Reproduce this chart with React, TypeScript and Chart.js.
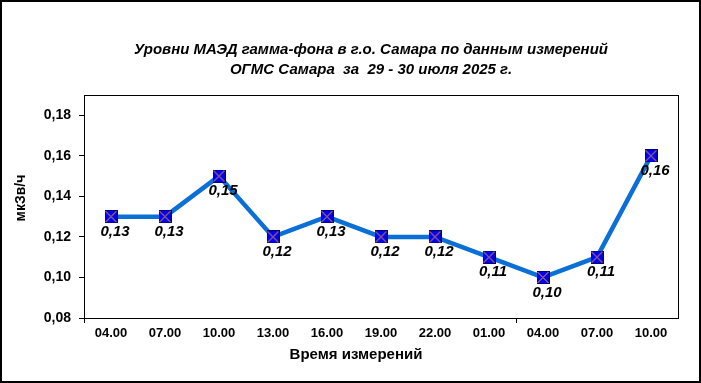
import React, { useEffect, useRef } from "react";
import { Chart, registerables } from "chart.js";

Chart.register(...registerables);

const TITLE_LINES = [
  "Уровни МАЭД гамма-фона в г.о. Самара по данным измерений",
  "ОГМС Самара  за  29 - 30 июля 2025 г.",
];
const X_TITLE = "Время измерений";
const Y_TITLE = "мкЗв/ч";
const CATEGORIES = ["04.00", "07.00", "10.00", "13.00", "16.00", "19.00", "22.00", "01.00", "04.00", "07.00", "10.00"];
const VALUES = [0.13, 0.13, 0.15, 0.12, 0.13, 0.12, 0.12, 0.11, 0.10, 0.11, 0.16];
const Y_TICKS = [0.08, 0.10, 0.12, 0.14, 0.16, 0.18];
const Y_MIN = 0.08;
const Y_MAX = 0.19;
const X_TICK_MARK_INDEXES = [0, 8];

const FONT = "'Liberation Sans', Arial, sans-serif";
const fmt = (v: number) => v.toFixed(2).replace(".", ",");

function makeMarker(): HTMLCanvasElement {
  const c = document.createElement("canvas");
  const s = 13;
  c.width = s;
  c.height = s;
  const ctx = c.getContext("2d")!;
  ctx.fillStyle = "#0000FF";
  ctx.fillRect(0, 0, s, s);
  ctx.strokeStyle = "#000080";
  ctx.lineWidth = 1;
  ctx.strokeRect(0.5, 0.5, s - 1, s - 1);
  ctx.strokeStyle = "#FFA500";
  ctx.lineWidth = 1;
  ctx.beginPath();
  ctx.moveTo(1, 1);
  ctx.lineTo(s - 1, s - 1);
  ctx.moveTo(s - 1, 1);
  ctx.lineTo(1, s - 1);
  ctx.stroke();
  return c;
}

const decorPlugin = {
  id: "decor",
  afterDraw(chart: any) {
    const { ctx, chartArea, width, height } = chart;
    ctx.save();
    ctx.strokeStyle = "#000";
    ctx.lineWidth = 1;
    ctx.strokeRect(
      Math.round(chartArea.left) + 0.5,
      Math.round(chartArea.top) + 0.5,
      Math.round(chartArea.right - chartArea.left),
      Math.round(chartArea.bottom - chartArea.top)
    );
    ctx.lineWidth = 2;
    ctx.strokeRect(1, 1, width - 2, height - 2);
    ctx.fillStyle = "#000";
    ctx.textAlign = "center";
    ctx.textBaseline = "middle";
    ctx.font = `italic bold 15px ${FONT}`;
    ctx.fillText(TITLE_LINES[0], 371, 50);
    ctx.fillText(TITLE_LINES[1], 371, 70);
    ctx.font = `bold 15px ${FONT}`;
    ctx.fillText(X_TITLE, 356, 355);
    ctx.save();
    ctx.translate(21, 198);
    ctx.rotate(-Math.PI / 2);
    ctx.font = `bold 14px ${FONT}`;
    ctx.fillText(Y_TITLE, 0, 0);
    ctx.restore();
    const meta = chart.getDatasetMeta(0);
    ctx.font = `italic bold 15px ${FONT}`;
    meta.data.forEach((pt: any, i: number) => {
      ctx.fillText(fmt(VALUES[i]), pt.x + 4, pt.y + 15);
    });
    ctx.restore();
  },
};

export default function App() {
  const ref = useRef<HTMLCanvasElement | null>(null);
  useEffect(() => {
    document.body.style.margin = "0";
    const marker = makeMarker();
    const chart = new Chart(ref.current!, {
      type: "line",
      data: {
        labels: CATEGORIES,
        datasets: [
          {
            data: VALUES,
            borderColor: "#0A6FD6",
            borderWidth: 4.5,
            tension: 0,
            pointStyle: marker as any,
            pointRadius: 7,
          },
        ],
      },
      options: {
        animation: false,
        responsive: false,
        maintainAspectRatio: false,
        layout: { padding: { top: 95, right: 23, left: 0, bottom: 0 } },
        plugins: {
          legend: { display: false },
          title: { display: false },
          tooltip: { enabled: false },
        },
        scales: {
          x: {
            offset: true,
            grid: {
              offset: true,
              drawOnChartArea: false,
              drawTicks: true,
              tickLength: 5,
              color: (c: any) => (X_TICK_MARK_INDEXES.includes(c.index) ? "#000" : "rgba(0,0,0,0)"),
            },
            border: { display: true, color: "#000", width: 1 },
            ticks: {
              color: "#000",
              font: { family: FONT, size: 13, weight: "bold" },
              padding: 3,
              maxRotation: 0,
              autoSkip: false,
            },
            afterFit: (s: any) => {
              s.height = 65;
            },
          },
          y: {
            min: Y_MIN,
            max: Y_MAX,
            afterBuildTicks: (s: any) => {
              s.ticks = Y_TICKS.map((v) => ({ value: v }));
            },
            grid: {
              drawOnChartArea: false,
              drawTicks: true,
              tickLength: 5,
              color: "#000",
            },
            border: { display: true, color: "#000", width: 1 },
            ticks: {
              color: "#000",
              font: { family: FONT, size: 14, weight: "bold" },
              padding: 8,
              callback: (v: any) => fmt(Number(v)),
            },
            afterFit: (s: any) => {
              s.width = 84;
            },
          },
        },
      },
      plugins: [decorPlugin],
    });
    return () => chart.destroy();
  }, []);
  return (
    <div style={{ position: "fixed", left: 0, top: 0, width: 701, height: 383, background: "#fff" }}>
      <canvas ref={ref} width={701} height={383} style={{ display: "block", width: 701, height: 383 }} />
    </div>
  );
}
